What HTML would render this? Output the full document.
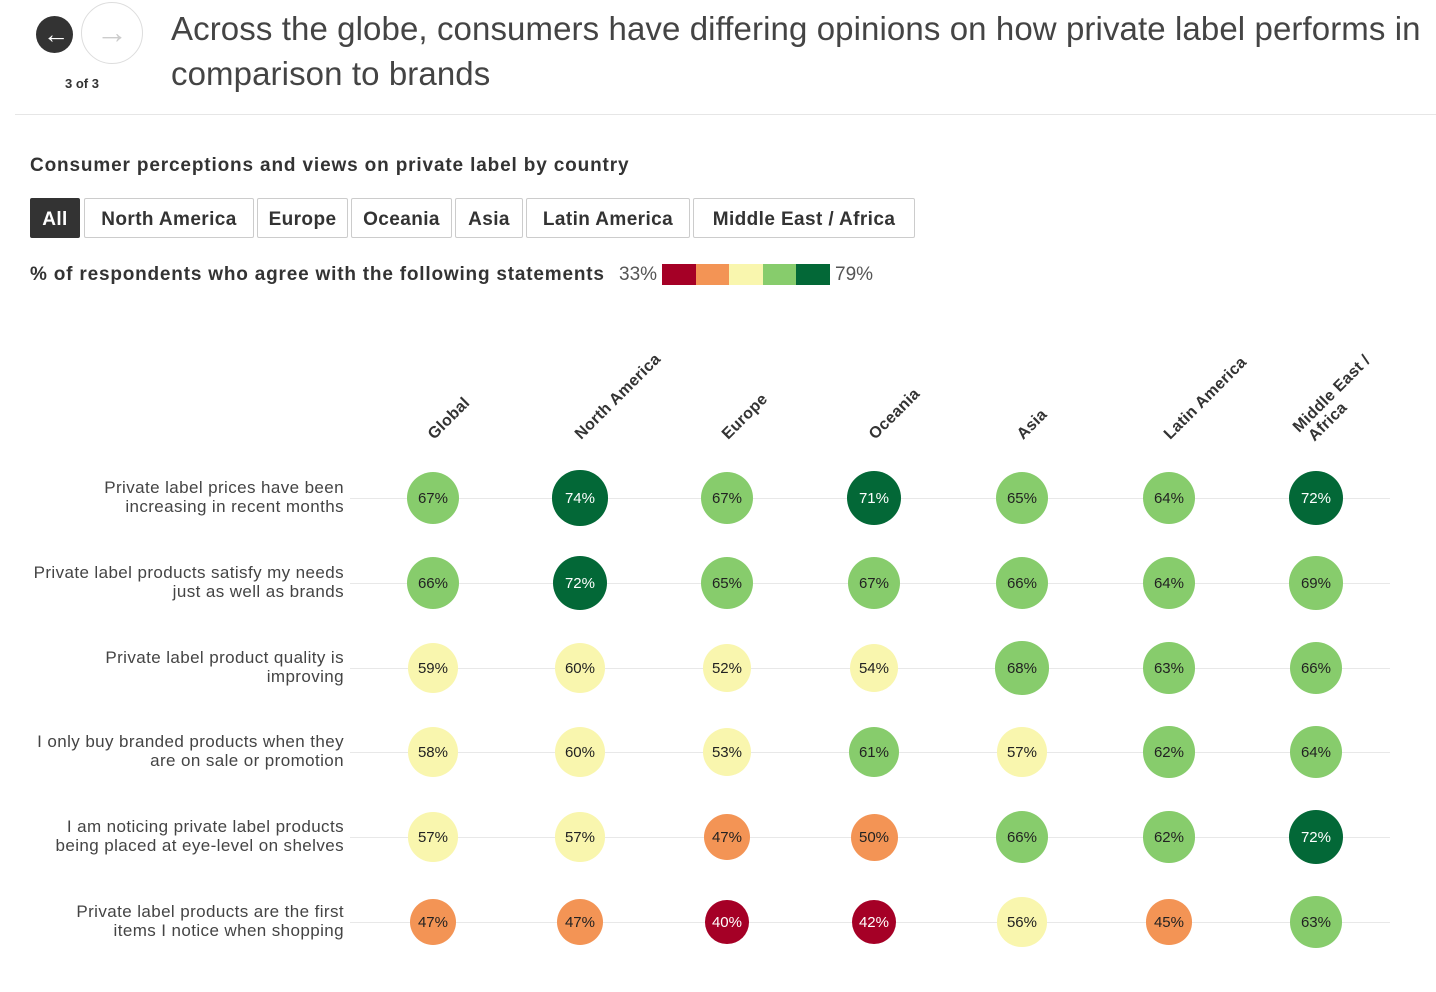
<!DOCTYPE html>
<html><head><meta charset="utf-8">
<style>
body{margin:0;width:1436px;height:992px;background:#fff;font-family:"Liberation Sans",sans-serif;color:#333;position:relative;overflow:hidden}
.abs{position:absolute}
.title{left:171px;top:6px;font-size:33px;line-height:45px;color:#444;letter-spacing:0.1px;white-space:nowrap}
.btn{position:absolute;top:198px;height:40px;border:1px solid #ccc;border-radius:2px;font-weight:bold;font-size:19px;line-height:42px;text-align:center;color:#333;box-sizing:border-box;letter-spacing:0.4px}
.rowlab{position:absolute;right:1092px;text-align:right;font-size:17px;line-height:19px;color:#444;white-space:nowrap;letter-spacing:0.4px}
.col{position:absolute;font-weight:bold;font-size:16px;color:#333;transform-origin:left bottom;transform:rotate(-45deg);white-space:nowrap;line-height:17px;letter-spacing:0.3px}
.c{position:absolute;border-radius:50%;display:flex;align-items:center;justify-content:center;font-size:15px;color:#222;padding-top:1px;box-sizing:border-box}
.line{position:absolute;left:350px;width:1040px;height:1px;background:#e8e8e8}
</style></head><body>
<div class="abs" style="left:36px;top:16px;width:37px;height:37px;border-radius:50%;background:#333"></div>
<div class="abs" style="left:43px;top:16px;color:#fff;font-size:26px;font-weight:bold;line-height:37px">&#x2190;</div>
<div class="abs" style="left:81px;top:2px;width:60px;height:60px;border-radius:50%;border:1px solid #ddd"></div>
<div class="abs" style="left:96px;top:14px;color:#ccc;font-size:32px;font-weight:bold;line-height:37px">&#x2192;</div>
<div class="abs" style="left:65px;top:76px;font-size:13px;font-weight:bold;color:#333">3 of 3</div>
<div class="abs title">Across the globe, consumers have differing opinions on how private label performs in<br>comparison to brands</div>
<div class="abs" style="left:15px;top:114px;width:1421px;height:1px;background:#e6e6e6"></div>
<div class="abs" style="left:30px;top:155px;font-size:19px;font-weight:bold;color:#333;letter-spacing:0.85px">Consumer perceptions and views on private label by country</div>
<div class="btn" style="left:30px;width:50px;background:#333;color:#fff;border-color:#333">All</div>
<div class="btn" style="left:84px;width:170px">North America</div>
<div class="btn" style="left:257px;width:91px">Europe</div>
<div class="btn" style="left:351px;width:101px">Oceania</div>
<div class="btn" style="left:455px;width:68px">Asia</div>
<div class="btn" style="left:526px;width:164px">Latin America</div>
<div class="btn" style="left:693px;width:222px">Middle East / Africa</div>
<div class="abs" style="left:30px;top:264px;font-size:19px;font-weight:bold;color:#333;letter-spacing:0.8px">% of respondents who agree with the following statements</div>
<div class="abs" style="left:619px;top:264px;font-size:19px;color:#555">33%</div>
<div class="abs" style="left:662px;top:264px;height:21px;width:168px;display:flex">
<div style="flex:1;background:#a50026"></div><div style="flex:1;background:#f39455"></div><div style="flex:1;background:#f9f6ae"></div><div style="flex:1;background:#87cc6c"></div><div style="flex:1;background:#036837"></div></div>
<div class="abs" style="left:835px;top:264px;font-size:19px;color:#555">79%</div>
<div id="g"></div>
<script>
var cols=["Global","North America","Europe","Oceania","Asia","Latin America","Middle East /<br>&nbsp;Africa"];
var xs=[433,580,727,874,1022,1169,1316];
var ys=[498,583,668,752,837,922];
var labs=["Private label prices have been<br>increasing in recent months","Private label products satisfy my needs<br>just as well as brands","Private label product quality is<br>improving","I only buy branded products when they<br>are on sale or promotion","I am noticing private label products<br>being placed at eye-level on shelves","Private label products are the first<br>items I notice when shopping"];
var d=[[67,74,67,71,65,64,72],[66,72,65,67,66,64,69],[59,60,52,54,68,63,66],[58,60,53,61,57,62,64],[57,57,47,50,66,62,72],[47,47,40,42,56,45,63]];
var h="";
cols.forEach(function(c,i){var multi=c.indexOf("<br>")>0;h+='<div class="col" style="left:'+(xs[i]+4+(multi?-6:0))+'px;top:'+(multi?414:426)+'px">'+c+'</div>';});
ys.forEach(function(y,r){h+='<div class="line" style="top:'+y+'px"></div>';h+='<div class="rowlab" style="top:'+(y-20)+'px">'+labs[r]+'</div>';
d[r].forEach(function(v,i){var rad=15+0.17*v;var bg,fc="#222";
if(v>=70){bg="#036837";fc="#fff"}else if(v>=61)bg="#87cc6c";else if(v>=52)bg="#f9f6ae";else if(v>=45)bg="#f39455";else{bg="#a50026";fc="#fff"}
h+='<div class="c" style="left:'+(xs[i]-rad)+'px;top:'+(y-rad)+'px;width:'+(2*rad)+'px;height:'+(2*rad)+'px;background:'+bg+';color:'+fc+'">'+v+'%</div>';});});
document.getElementById("g").innerHTML=h;
</script>
</body></html>
